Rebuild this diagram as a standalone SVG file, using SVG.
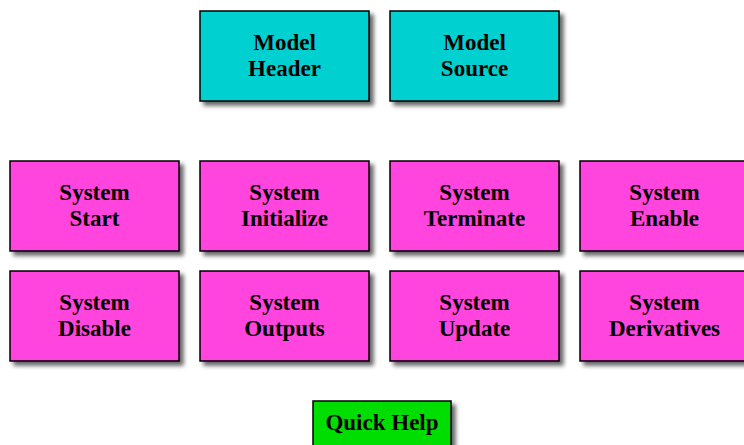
<svg xmlns="http://www.w3.org/2000/svg" width="744" height="445" viewBox="0 0 744 445">
<defs>
<filter id="sh" x="-10%" y="-10%" width="130%" height="130%">
<feGaussianBlur in="SourceAlpha" stdDeviation="2"/>
<feOffset dx="4" dy="4" result="b"/>
<feComponentTransfer><feFuncA type="linear" slope="0.6"/></feComponentTransfer>
<feMerge><feMergeNode/><feMergeNode in="SourceGraphic"/></feMerge>
</filter>
</defs>
<style>
rect{stroke:#000;stroke-width:1.5;filter:url(#sh)}
.m{fill:#00D0D0}
.s{fill:#FF44DD}
.q{fill:#00DD00}
text{font-family:"Liberation Serif","Times New Roman",serif;font-weight:bold;font-size:23px;fill:#000;text-anchor:middle}
</style>
<rect width="744" height="445" fill="#fff" style="stroke:none;filter:none"/>
<g id="model-header"><rect class="m" x="200" y="11" width="169" height="90"/><text x="284.5" y="50">Model</text><text x="284.5" y="76">Header</text></g>
<g id="model-source"><rect class="m" x="390" y="11" width="169" height="90"/><text x="474.5" y="50">Model</text><text x="474.5" y="76">Source</text></g>
<g id="system-start"><rect class="s" x="10" y="161" width="169" height="90"/><text x="94.5" y="200">System</text><text x="94.5" y="226">Start</text></g>
<g id="system-initialize"><rect class="s" x="200" y="161" width="169" height="90"/><text x="284.5" y="200">System</text><text x="284.5" y="226">Initialize</text></g>
<g id="system-terminate"><rect class="s" x="390" y="161" width="169" height="90"/><text x="474.5" y="200">System</text><text x="474.5" y="226">Terminate</text></g>
<g id="system-enable"><rect class="s" x="580" y="161" width="169" height="90"/><text x="664.5" y="200">System</text><text x="664.5" y="226">Enable</text></g>
<g id="system-disable"><rect class="s" x="10" y="271" width="169" height="90"/><text x="94.5" y="310">System</text><text x="94.5" y="336">Disable</text></g>
<g id="system-outputs"><rect class="s" x="200" y="271" width="169" height="90"/><text x="284.5" y="310">System</text><text x="284.5" y="336">Outputs</text></g>
<g id="system-update"><rect class="s" x="390" y="271" width="169" height="90"/><text x="474.5" y="310">System</text><text x="474.5" y="336">Update</text></g>
<g id="system-derivatives"><rect class="s" x="580" y="271" width="169" height="90"/><text x="664.5" y="310">System</text><text x="664.5" y="336">Derivatives</text></g>
<g id="quick-help"><rect class="q" x="313" y="401" width="138" height="50"/><text x="382" y="430">Quick Help</text></g>
<g id="connectors"/>
</svg>
